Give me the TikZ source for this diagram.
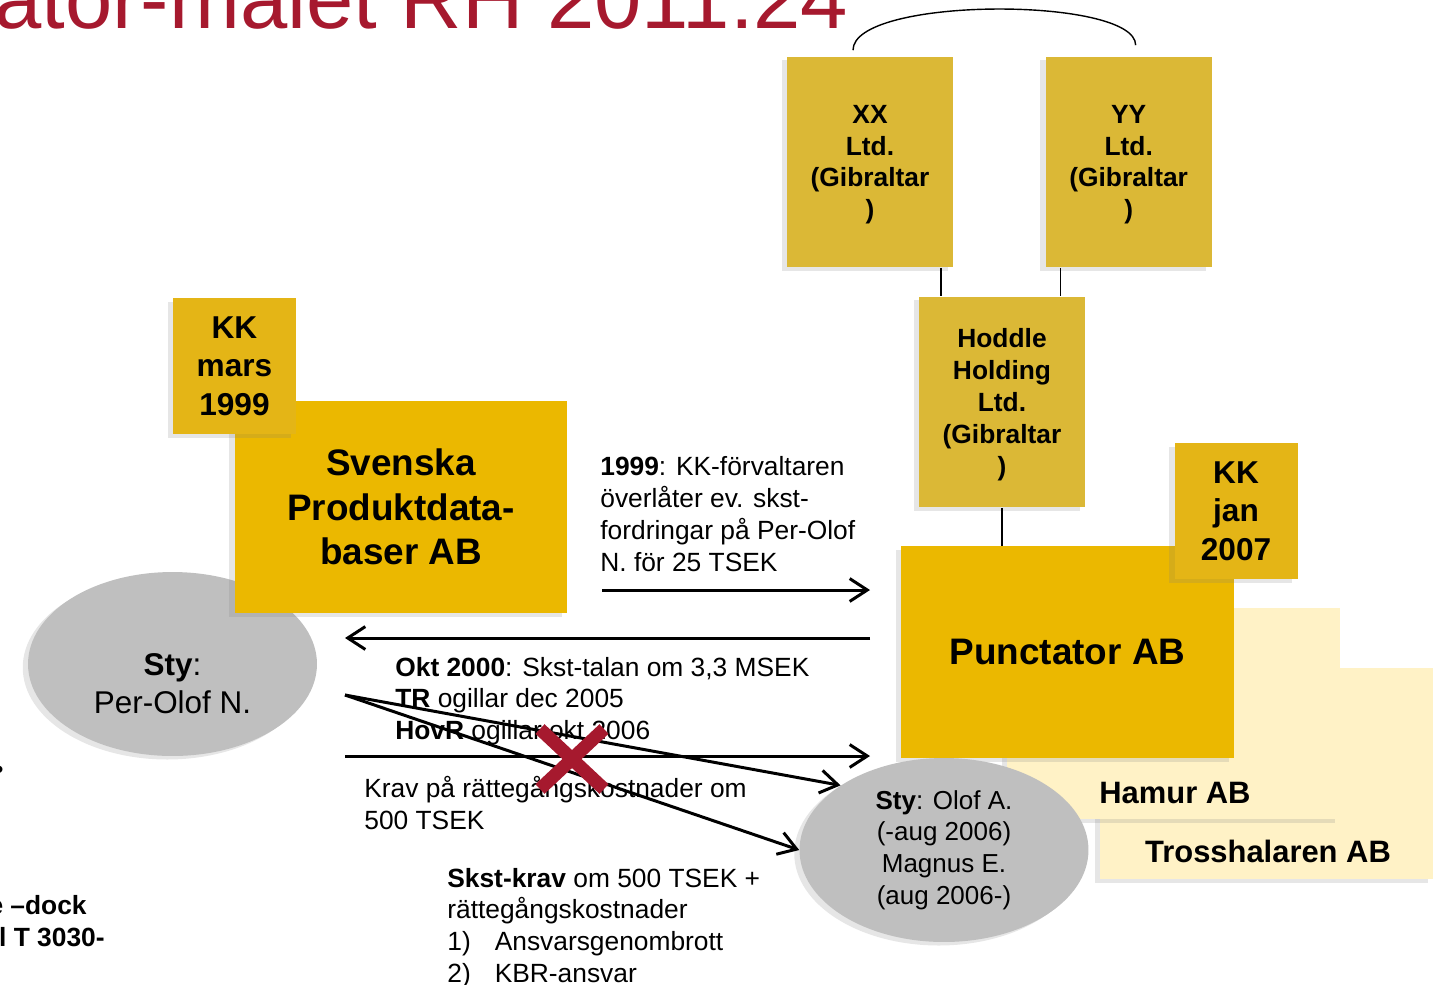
\documentclass[tikz,border=0pt]{standalone}
\usepackage{fontspec}
\setmainfont{Liberation Sans}
\usetikzlibrary{positioning,calc,shapes.geometric,shadows,arrows.meta}
\definecolor{boxgold}{RGB}{235,184,0}
\definecolor{gibgold}{RGB}{219,184,54}
\definecolor{kkgold}{RGB}{228,181,22}
\definecolor{palegold}{RGB}{255,242,198}
\definecolor{stygray}{RGB}{191,191,191}
\definecolor{titlered}{RGB}{166,25,46}
\tikzset{
  every node/.style={inner sep=0pt},
  soft shadow/.style={drop shadow={shadow xshift=-3pt, shadow yshift=-2pt, opacity=.2}},
  company/.style={fill=boxgold, minimum width=6.66cm, minimum height=4.24cm, align=center,
    font=\bfseries\fontsize{21}{25.5}\selectfont, soft shadow},
  sidebox/.style={company, fill=palegold},
  sidelabel/.style={font=\bfseries\fontsize{17.6}{21}\selectfont},
  gibbox/.style={fill=gibgold, minimum width=3.32cm, minimum height=4.22cm, align=center,
    text depth=0pt, font=\bfseries\fontsize{15}{18.1}\selectfont, soft shadow},
  kkbadge/.style={fill=kkgold, minimum width=2.46cm, minimum height=2.72cm, align=center,
    font=\bfseries\fontsize{18}{21.8}\selectfont, soft shadow},
  styoval/.style={ellipse, fill=stygray, minimum width=5.78cm, minimum height=3.68cm, soft shadow},
  note/.style={align=left, anchor=west, font=\fontsize{15}{18.1}\selectfont},
  owns/.style={line width=0.8pt},
  flow/.style={line width=1.7pt, -{Straight Barb[length=10pt, width=13pt]}},
  veto/.style={line width=7.5pt, draw=titlered}
}
\begin{document}
\begin{tikzpicture}[x=0.02cm, y=-0.02cm]
  \useasboundingbox (0,0) rectangle (1433,984);
  \clip (0,0) rectangle (1433,984);

  \node[anchor=base west, text=titlered, font=\fontsize{48.4}{58}\selectfont] (title) at (-6,28) {ator-målet RH 2011:24};

  % left side
  \node[styoval] (perolof) at (172.5,664) {};
  \node[align=center, font=\fontsize{17.9}{21.5}\selectfont] (perolofname) at ($(perolof.center)+(0,20)$) {\textbf{Sty}:\\Per-Olof N.};
  \node[company] (svenska) at (401,507) {Svenska\\Produktdata-\\baser AB};
  \node[kkbadge] (kkmars) at (234.5,366) {KK\\mars\\1999};

  % right side
  \node[sidebox] (tross) at (1266.5,773.5) {};
  \node[sidelabel] (trosslabel) at ($(tross.south)+(1.5,-28)$) {Trosshalaren AB};
  \node[sidebox] (hamur) at (1173.5,713.5) {};
  \node[sidelabel] (hamurlabel) at ($(hamur.south)+(1.5,-27)$) {Hamur AB};
  \node[company] (punctator) at (1067.5,652) {Punctator AB};
  \node[kkbadge] (kkjan) at (1236,511) {KK\\jan\\2007};
  \node[styoval, align=center, font=\fontsize{14.8}{18.1}\selectfont] (olof) at (944,850)
    {\textbf{Sty}: Olof A.\\(-aug 2006)\\Magnus E.\\(aug 2006-)};

  \node[gibbox] (xx) at (870,162) {XX\\Ltd.\\(Gibraltar\\)};
  \node[gibbox, right=1.84cm of xx] (yy) {YY\\Ltd.\\(Gibraltar\\)};
  \node[gibbox] (hoddle) at (1002,402) {Hoddle\\Holding\\Ltd.\\(Gibraltar\\)};

  \path ($(xx.south)+(71,0)$) coordinate (xxfoot)
        ($(yy.south)+(-68,0)$) coordinate (yyfoot);
  \draw[owns] (xxfoot) -- (xxfoot |- hoddle.north);
  \draw[owns] (yyfoot) -- (yyfoot |- hoddle.north);
  \draw[owns] (hoddle.south) -- (hoddle.south |- punctator.north);
  \draw[owns] ($(xx.north)+(-17,-6)$) .. controls ($(xx.north)+(-17,-60)$) and ($(yy.north)+(7,-60)$) .. ($(yy.north)+(7,-11)$);

  % texts
  \node[note] (sale) at (600,514) {\textbf{1999}: KK-förvaltaren\\överlåter ev. skst-\\fordringar på Per-Olof\\N. för 25 TSEK};
  \node[note] (suit) at (395,701) {\textbf{Okt 2000}: Skst-talan om 3,3 MSEK\\\textbf{TR} ogillar dec 2005\\\textbf{HovR} ogillar okt 2006};
  \node[note] (costs) at (364,803) {Krav på rättegångskostnader om\\500 TSEK};
  \node[note] (claim) at (447,928) {\textbf{Skst-krav} om 500 TSEK +\\rättegångskostnader\\\makebox[27pt][l]{1)}Ansvarsgenombrott\\\makebox[27pt][l]{2)}KBR-ansvar};
  \node[note, anchor=base east, font=\bfseries\fontsize{15}{18.1}\selectfont] (frag1) at (87,914) {e –dock};
  \node[note, anchor=base east, font=\bfseries\fontsize{15}{18.1}\selectfont] (frag2) at (105,946) {l T 3030-};
  \node[font=\fontsize{15}{18.1}\selectfont] (dot) at (-1,772) {\textbullet};

  % arrows
  \coordinate (sellFrom) at (602,590);
  \coordinate (sellTo) at (870,590);
  \coordinate (suitFrom) at (870,638);
  \coordinate (suitTo) at (345,638);
  \coordinate (costFrom) at (345,756);
  \coordinate (costTo) at (870,756);
  \coordinate (perOut) at (345,695);
  \draw[flow] (sellFrom) -- (sellTo);
  \draw[flow] (suitFrom) -- (suitTo);
  \draw[flow] (costFrom) -- (costTo);
  \draw[flow] (perOut) -- (olof.148);
  \draw[flow] (perOut) -- (olof.west);

  \draw[veto] (540,729) -- (604,789) (604,729) -- (540,789);
\end{tikzpicture}
\end{document}
